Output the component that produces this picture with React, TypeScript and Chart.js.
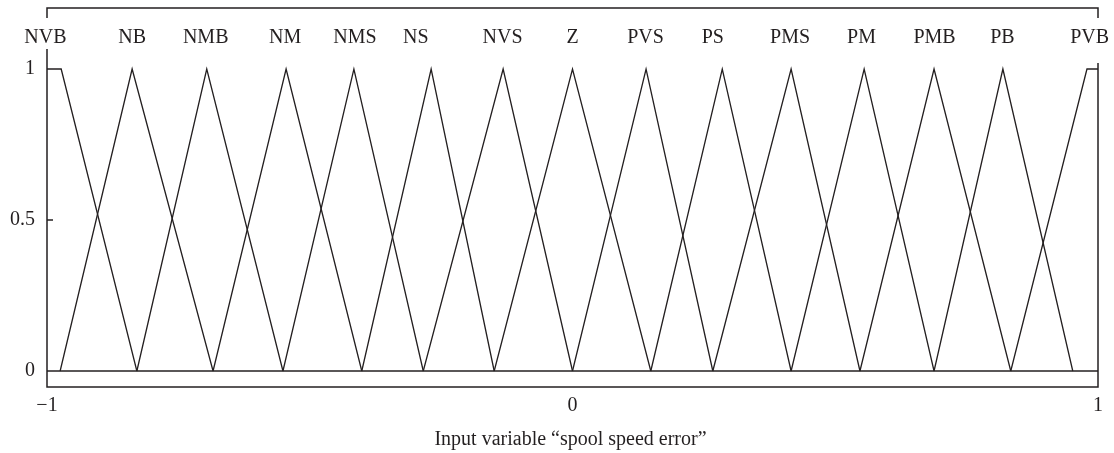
import React, { useEffect, useRef } from 'react';
import { Chart, registerables } from 'chart.js';

Chart.register(...registerables);

const setNames = ['NVB', 'NB', 'NMB', 'NM', 'NMS', 'NS', 'NVS', 'Z', 'PVS', 'PS', 'PMS', 'PM', 'PMB', 'PB', 'PVB'];

// breakpoints (x) of each membership function
const setBreakX: number[][] = [
  [-1, -0.973, -0.829],
  [-0.975, -0.838, -0.684],
  [-0.829, -0.696, -0.551],
  [-0.684, -0.545, -0.401],
  [-0.551, -0.416, -0.284],
  [-0.401, -0.269, -0.149],
  [-0.284, -0.132, 0],
  [-0.149, 0, 0.149],
  [0, 0.14, 0.267],
  [0.149, 0.285, 0.416],
  [0.267, 0.416, 0.547],
  [0.416, 0.555, 0.688],
  [0.547, 0.688, 0.834],
  [0.688, 0.819, 0.952],
  [0.834, 0.979, 1],
];

// membership degree at each breakpoint
const setBreakY: number[][] = [
  [1, 1, 0],
  [0, 1, 0],
  [0, 1, 0],
  [0, 1, 0],
  [0, 1, 0],
  [0, 1, 0],
  [0, 1, 0],
  [0, 1, 0],
  [0, 1, 0],
  [0, 1, 0],
  [0, 1, 0],
  [0, 1, 0],
  [0, 1, 0],
  [0, 1, 0],
  [0, 1, 1],
];

// x value where each set's name is written
const labelAt = [-1.003, -0.838, -0.698, -0.547, -0.414, -0.298, -0.133, 0, 0.139, 0.267, 0.414, 0.55, 0.689, 0.818, 0.984];

const xTicks = [-1, 0, 1];
const yTicks = [0, 0.5, 1];
const xTitle = 'Input variable \u201cspool speed error\u201d';

const INK = '#231f20';
const FONT = '"Liberation Serif", "Times New Roman", serif';

export default function App() {
  const ref = useRef<HTMLCanvasElement | null>(null);

  useEffect(() => {
    document.body.style.margin = '0';
    const canvas = ref.current;
    if (!canvas) return;

    const datasets: any[] = setNames.map((name, i) => ({
      label: name,
      data: setBreakX[i].map((x, j) => ({ x, y: setBreakY[i][j] })),
      showLine: true,
      borderColor: INK,
      borderWidth: 1.3,
      pointRadius: 0,
      tension: 0,
      fill: false,
    }));
    datasets.push({
      label: 'zero',
      data: [
        { x: -1, y: 0 },
        { x: 1, y: 0 },
      ],
      showLine: true,
      borderColor: INK,
      borderWidth: 1.5,
      pointRadius: 0,
      fill: false,
    });

    const decor = {
      id: 'decor',
      afterDraw(chart: any) {
        const { ctx, chartArea } = chart;
        const { left, right, top, bottom } = chartArea;
        const xs = chart.scales.x;
        const ys = chart.scales.y;
        ctx.save();
        ctx.strokeStyle = INK;
        ctx.lineWidth = 1.5;
        ctx.strokeRect(left, top, right - left, bottom - top);
        // small tick at 0.5
        const yHalf = ys.getPixelForValue(0.5);
        ctx.beginPath();
        ctx.moveTo(left, yHalf);
        ctx.lineTo(left + 6, yHalf);
        ctx.stroke();

        ctx.font = `20px ${FONT}`;
        ctx.textAlign = 'center';
        ctx.textBaseline = 'alphabetic';
        setNames.forEach((name, i) => {
          const px = xs.getPixelForValue(labelAt[i]);
          const w = ctx.measureText(name).width;
          const boxBottom = i === setNames.length - 1 ? 63 : 49;
          ctx.fillStyle = '#ffffff';
          ctx.fillRect(px - w / 2 - 3, 18, w + 6, boxBottom - 18);
          ctx.fillStyle = INK;
          ctx.fillText(name, px, 43);
        });

        ctx.fillText(xTitle, (left + right) / 2 - 2, 445);
        ctx.restore();
      },
    };

    const chart = new Chart(canvas, {
      type: 'scatter',
      data: { datasets },
      options: {
        animation: false,
        responsive: false,
        devicePixelRatio: 1,
        layout: { padding: { top: 8, right: 16, left: 0, bottom: 0 } },
        plugins: {
          legend: { display: false },
          tooltip: { enabled: false },
        },
        scales: {
          x: {
            type: 'linear',
            min: -1,
            max: 1,
            afterBuildTicks: (scale: any) => {
              scale.ticks = xTicks.map((v) => ({ value: v }));
            },
            afterFit: (scale: any) => {
              scale.height = 66;
              scale.paddingLeft = 0;
              scale.paddingRight = 0;
            },
            grid: { display: false, drawTicks: false },
            border: { display: false },
            ticks: {
              autoSkip: false,
              maxRotation: 0,
              padding: 7,
              color: INK,
              font: { family: FONT, size: 20 },
              callback: (v: any) => (v === -1 ? '\u22121' : String(v)),
            },
          },
          y: {
            type: 'linear',
            min: -0.053,
            max: 1.202,
            afterBuildTicks: (scale: any) => {
              scale.ticks = yTicks.map((v) => ({ value: v }));
            },
            afterFit: (scale: any) => {
              scale.width = 47;
              scale.paddingTop = 0;
              scale.paddingBottom = 0;
            },
            grid: { display: false, drawTicks: false },
            border: { display: false },
            ticks: {
              autoSkip: false,
              padding: 12,
              color: INK,
              font: { family: FONT, size: 20 },
              callback: (v: any) => String(v),
            },
          },
        },
      },
      plugins: [decor],
    });

    return () => chart.destroy();
  }, []);

  return (
    <div style={{ width: 1114, height: 453, background: '#ffffff' }}>
      <canvas ref={ref} width={1114} height={453} />
    </div>
  );
}
